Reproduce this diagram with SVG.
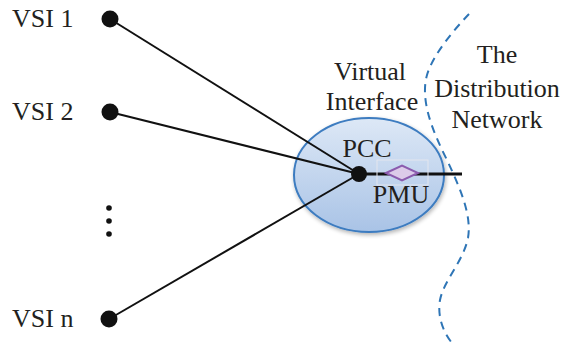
<svg xmlns="http://www.w3.org/2000/svg" width="566" height="347" viewBox="0 0 566 347">
  <style>
    .lbl { font-family: "Liberation Serif", "Times New Roman", serif; font-size: 26px; fill: #231f20; }
    .mid { text-anchor: middle; }
    .wire { stroke: #111; stroke-width: 2; fill: none; }
    .term { fill: #111; }
  </style>
  <defs>
    <linearGradient id="bubble" x1="0" y1="0" x2="0" y2="1">
      <stop offset="0" stop-color="#dde8f6"/>
      <stop offset="1" stop-color="#a9c3e6"/>
    </linearGradient>
    <filter id="soft" x="-20%" y="-20%" width="140%" height="140%">
      <feGaussianBlur in="SourceAlpha" stdDeviation="2"/>
      <feOffset dx="1" dy="2"/>
      <feComponentTransfer><feFuncA type="linear" slope="0.3"/></feComponentTransfer>
      <feMerge><feMergeNode/><feMergeNode in="SourceGraphic"/></feMerge>
    </filter>
  </defs>

  <!-- boundary of the distribution network -->
  <path d="M469,14 C452,32 433,55 427,75 C420,100 432,130 447,160 C460,188 472,215 468,238 C463,262 444,280 440,300 C437,318 444,333 452,343"
        fill="none" stroke="#2e75b6" stroke-width="2" stroke-dasharray="8,6"/>

  <!-- virtual interface -->
  <g id="interface">
    <ellipse cx="369" cy="175" rx="75" ry="57" fill="url(#bubble)" stroke="#3d7cc0" stroke-width="2" filter="url(#soft)"/>
    <text class="lbl mid" x="370" y="80">Virtual</text>
    <text class="lbl mid" x="372" y="110">Interface</text>
  </g>

  <g id="network-label">
    <text class="lbl mid" x="497" y="63">The</text>
    <text class="lbl mid" x="497" y="97">Distribution</text>
    <text class="lbl mid" x="497" y="128">Network</text>
  </g>

  <!-- connectors -->
  <g id="connectors">
    <line class="wire" x1="110" y1="19" x2="359" y2="174"/>
    <line class="wire" x1="110" y1="112" x2="359" y2="174"/>
    <line class="wire" x1="109" y1="319" x2="359" y2="174"/>
    <line x1="359" y1="174" x2="462" y2="174" stroke="#111" stroke-width="3"/>
  </g>

  <g id="vsi1">
    <circle class="term" cx="110" cy="19" r="8.5"/>
    <text class="lbl" x="12" y="27">VSI 1</text>
  </g>
  <g id="vsi2">
    <circle class="term" cx="110" cy="112" r="8.5"/>
    <text class="lbl" x="12" y="120">VSI 2</text>
  </g>
  <g id="ellipsis">
    <circle class="term" cx="109" cy="208" r="2.8"/>
    <circle class="term" cx="109" cy="221" r="2.8"/>
    <circle class="term" cx="109" cy="234" r="2.8"/>
  </g>
  <g id="vsin">
    <circle class="term" cx="109" cy="319" r="8.5"/>
    <text class="lbl" x="12" y="327">VSI n</text>
  </g>

  <g id="pcc">
    <circle class="term" cx="359" cy="174" r="8"/>
    <text class="lbl mid" x="367" y="157">PCC</text>
  </g>

  <g id="pmu">
    <rect x="377" y="160" width="51" height="25" fill="none" stroke="#e3e6ee" stroke-width="1"/>
    <polygon points="386,173 402,165.5 418,173 402,180.5" fill="#dccbe9" stroke="#8b5bae" stroke-width="2"/>
    <text class="lbl mid" x="401" y="203">PMU</text>
  </g>
</svg>
